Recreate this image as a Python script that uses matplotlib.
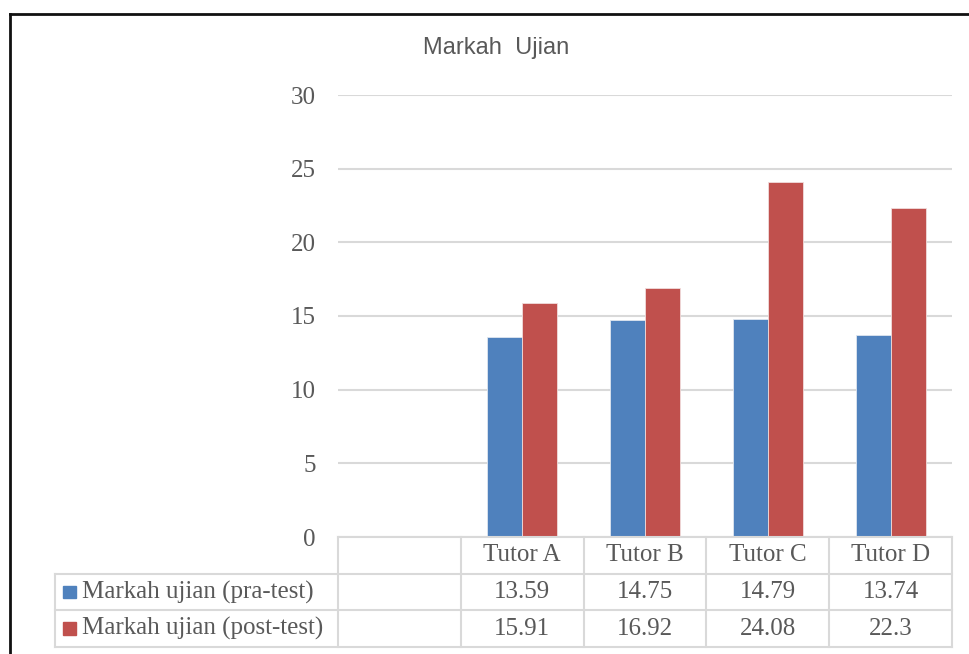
import matplotlib
matplotlib.use('Agg')
import matplotlib.pyplot as plt
from matplotlib.lines import Line2D
from matplotlib.patches import Rectangle

categories = ['', 'Tutor A', 'Tutor B', 'Tutor C', 'Tutor D']
pre_test = [None, 13.59, 14.75, 14.79, 13.74]
post_test = [None, 15.91, 16.92, 24.08, 22.3]
series_names = ['Markah ujian (pra-test)', 'Markah ujian (post-test)']
value_labels = [['', '13.59', '14.75', '14.79', '13.74'],
                ['', '15.91', '16.92', '24.08', '22.3']]
yticks = [0, 5, 10, 15, 20, 25, 30]

blue = '#4F81BD'
red = '#C0504D'
grid_c = '#D9D9D9'
text_c = '#595959'
serif = 'Liberation Serif'
fs = 18

W, H = 969, 654
fig = plt.figure(figsize=(W / 100, H / 100), dpi=100)

def fx(px):
    return px / W

def fy(py):
    return 1 - py / H

# plot area
left, right, top, bottom = 338, 952, 95, 537
ax = fig.add_axes([fx(left), fy(bottom), fx(right - left), fy(top) - fy(bottom)])
xs = list(range(len(categories)))
bw = 0.285
for i in xs:
    if pre_test[i] is not None:
        ax.bar(i - bw / 2, pre_test[i], width=bw, color=blue, edgecolor='#dfe6f0', linewidth=0.6, zorder=3)
    if post_test[i] is not None:
        ax.bar(i + bw / 2, post_test[i], width=bw, color=red, edgecolor='#f0dcdc', linewidth=0.6, zorder=3)
ax.set_xlim(-0.5, len(categories) - 0.5)
ax.set_ylim(0, 30)
ax.set_yticks(yticks)
ax.set_yticklabels([str(t) for t in yticks], fontfamily=serif, fontsize=fs, color=text_c)
ax.tick_params(axis='y', length=0, pad=16)
ax.set_xticks([])
for s in ax.spines.values():
    s.set_visible(False)
ax.yaxis.grid(True, color=grid_c, linewidth=1.5, zorder=0)
ax.set_axisbelow(True)

# data table under the plot
tleft, tbottom = 55, 647
colw = (right - left) / len(categories)
legw = (left - tleft) / colw
tax = fig.add_axes([fx(tleft), fy(tbottom), fx(right - tleft), fy(bottom) - fy(tbottom)])
tax.set_xlim(-0.5 - legw, len(categories) - 0.5)
tax.set_ylim(0, 3)
tax.axis('off')
lw = 1.5
x0 = -0.5 - legw
xr = len(categories) - 0.5
tax.plot([-0.5, xr], [3, 3], color=grid_c, lw=lw, clip_on=False)
for yy in [2, 1, 0]:
    tax.plot([x0, xr], [yy, yy], color=grid_c, lw=lw, clip_on=False)
tax.plot([x0, x0], [0, 2], color=grid_c, lw=lw, clip_on=False)
for k in range(len(categories) + 1):
    xv = k - 0.5
    tax.plot([xv, xv], [0, 3], color=grid_c, lw=lw, clip_on=False)

for i, c in enumerate(categories):
    tax.text(i, 2.5, c, ha='center', va='center', fontfamily=serif, fontsize=fs, color=text_c)
    for r in range(2):
        tax.text(i, 1.5 - r, value_labels[r][i], ha='center', va='center',
                 fontfamily=serif, fontsize=fs, color=text_c)

for r, (name, col) in enumerate(zip(series_names, [blue, red])):
    yc = 1.5 - r
    sq = 13 / colw
    tax.add_patch(Rectangle((x0 + 8 / colw, yc - 0.17), sq, 0.34, color=col, clip_on=False))
    tax.text(x0 + 27 / colw, yc, name, ha='left', va='center', fontfamily=serif, fontsize=fs, color=text_c)

# title
fig.text(fx(496), fy(48), 'Markah  Ujian', ha='center', va='center',
         fontfamily='Liberation Sans', fontsize=17, color=text_c)

# chart frame (left and top edges)
fig.add_artist(Line2D([fx(10), fx(10)], [fy(14), 0], color='#111111', lw=2))
fig.add_artist(Line2D([fx(10), 1], [fy(14), fy(14)], color='#111111', lw=2))

fig.savefig('out.png', dpi=100)
